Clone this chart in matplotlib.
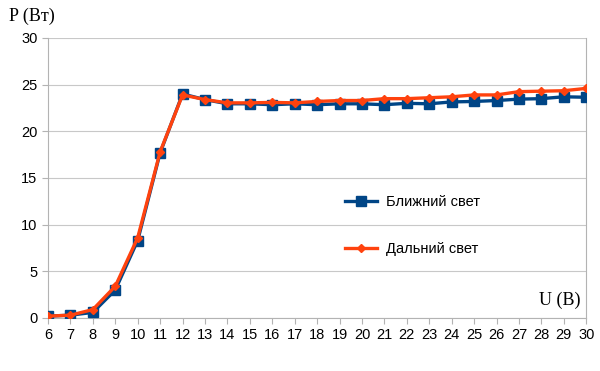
import matplotlib
matplotlib.use("Agg")
import matplotlib.pyplot as plt

U = list(range(6, 31))
near = [0.2, 0.3, 0.6, 3.0, 8.3, 17.7, 24.0, 23.4, 22.95, 22.95, 22.85, 22.95, 22.85, 22.95, 22.95,
        22.85, 23.0, 22.95, 23.15, 23.2, 23.3, 23.45, 23.5, 23.7, 23.65]
far = [0.2, 0.3, 0.9, 3.4, 8.6, 17.8, 23.9, 23.4, 23.05, 23.05, 23.1, 23.05, 23.2, 23.3, 23.3,
       23.5, 23.5, 23.6, 23.7, 23.9, 23.9, 24.25, 24.3, 24.35, 24.6]
xticks = list(range(6, 31))
yticks = [0, 5, 10, 15, 20, 25, 30]

fig = plt.figure(figsize=(6, 3.71), dpi=100)
ax = fig.add_axes([0.08, 0.1429, 0.897, 0.7547])

ax.plot(U, near, color="#004586", lw=2.4, marker="s", ms=7.5, label="Ближний свет", zorder=3)
ax.plot(U, far, color="#ff420e", lw=2.4, marker="D", ms=4.5, label="Дальний свет", zorder=4)

ax.set_xlim(6, 30)
ax.set_ylim(0, 30)
ax.set_xticks(xticks)
ax.set_yticks(yticks)
ax.grid(axis="y", color="#c8c8c8", lw=0.8)
ax.set_axisbelow(True)
for s in ["left", "right", "bottom"]:
    ax.spines[s].set_color("#b3b3b3")
ax.spines["top"].set_visible(False)
ax.tick_params(axis="both", colors="#b3b3b3", labelcolor="black", labelsize=10.5, length=4, width=0.8)
for lab in ax.get_xticklabels() + ax.get_yticklabels():
    lab.set_family("Liberation Sans")

fig.text(0.015, 0.955, "P (Вт)", family="Liberation Serif", fontsize=13, ha="left", va="center")
ax.text(29.75, 1.0, "U (В)", family="Liberation Serif", fontsize=13, ha="right", va="bottom")

leg = ax.legend(loc="center left", bbox_to_anchor=(0.528, 0.33), frameon=False,
                prop={"family": "Liberation Sans", "size": 10.5}, labelspacing=2.3,
                handlelength=2.2, handletextpad=0.6)

fig.savefig("out.png", dpi=100)
